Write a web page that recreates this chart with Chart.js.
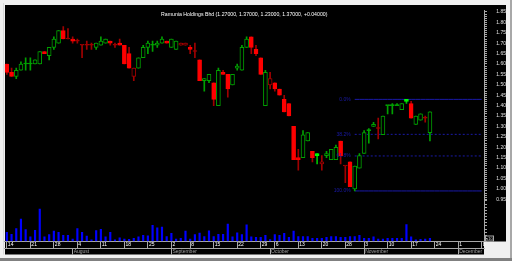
<!DOCTYPE html>
<html>
<head>
<meta charset="utf-8">
<script src="https://cdn.jsdelivr.net/npm/chart.js@4.4.1/dist/chart.umd.min.js"></script>
<style>
  html, body { margin: 0; padding: 0; background: #f0f0f0; overflow: hidden; }
  canvas { display: block; }
</style>
</head>
<body>
<canvas id="chart" width="512" height="261"></canvas>
<script>
const title = 'Ramunia Holdings Bhd (1.27000, 1.37000, 1.23000, 1.37000, +0.04000)';

// trading days, Jul 14 - Dec 8 2008 (Bursa holidays left out)
const dates = [
  '2008-07-14','2008-07-15','2008-07-16','2008-07-17','2008-07-18','2008-07-21','2008-07-22','2008-07-23','2008-07-24','2008-07-25',
  '2008-07-28','2008-07-29','2008-07-30','2008-07-31','2008-08-01','2008-08-04','2008-08-05','2008-08-06','2008-08-07','2008-08-08',
  '2008-08-11','2008-08-12','2008-08-13','2008-08-14','2008-08-15','2008-08-18','2008-08-19','2008-08-20','2008-08-21','2008-08-22',
  '2008-08-25','2008-08-26','2008-08-27','2008-08-28','2008-08-29','2008-09-02','2008-09-03','2008-09-04','2008-09-05','2008-09-08',
  '2008-09-09','2008-09-10','2008-09-11','2008-09-12','2008-09-15','2008-09-16','2008-09-17','2008-09-18','2008-09-19','2008-09-22',
  '2008-09-23','2008-09-24','2008-09-25','2008-09-26','2008-09-29','2008-09-30','2008-10-03','2008-10-06','2008-10-07','2008-10-08',
  '2008-10-09','2008-10-10','2008-10-13','2008-10-14','2008-10-15','2008-10-16','2008-10-17','2008-10-20','2008-10-21','2008-10-22',
  '2008-10-23','2008-10-24','2008-10-28','2008-10-29','2008-10-30','2008-10-31','2008-11-03','2008-11-04','2008-11-05','2008-11-06',
  '2008-11-07','2008-11-10','2008-11-11','2008-11-12','2008-11-13','2008-11-14','2008-11-17','2008-11-18','2008-11-19','2008-11-20',
  '2008-11-21','2008-11-24','2008-11-25','2008-11-26','2008-11-27','2008-11-28','2008-12-01','2008-12-02','2008-12-03','2008-12-04',
  '2008-12-05','2008-12-08'
];
const monthNames = ['January','February','March','April','May','June','July','August','September','October','November','December'];

const open = [
  1.60,1.56,1.54,1.57,1.60,1.60,1.60,1.60,1.66,1.64, 1.68,1.70,1.76,1.72,1.72,1.71,1.69,1.69,1.69,1.68,
  1.69,1.70,1.71,1.69,1.70,1.69,1.65,1.54,1.58,1.63, 1.68,1.69,1.69,1.70,1.71,1.68,1.67,1.69,1.69,1.68,
  1.66,1.62,1.52,1.52,1.51,1.40,1.56,1.55,1.50,1.58, 1.57,1.68,1.73,1.67,1.63,1.40,1.50,1.51,1.48,1.43,
  1.41,1.30,1.15,1.15,1.23,1.18,1.17,1.12,1.16,1.14, 1.14,1.23,1.11,1.13,1.00,1.10,1.17,1.28,1.30,1.29,
  1.26,1.40,1.40,1.40,1.38,1.43,1.41,1.31,1.33,1.34, 1.27
];
const high = [
  1.60,1.58,1.58,1.61,1.63,1.63,1.62,1.66,1.66,1.68, 1.73,1.76,1.78,1.77,1.73,1.72,1.69,1.71,1.70,1.70,
  1.73,1.72,1.71,1.70,1.72,1.69,1.68,1.58,1.63,1.69, 1.71,1.71,1.71,1.73,1.71,1.72,1.71,1.70,1.70,1.69,
  1.70,1.62,1.53,1.55,1.51,1.58,1.57,1.55,1.55,1.60, 1.69,1.73,1.73,1.69,1.63,1.57,1.56,1.51,1.48,1.45,
  1.41,1.30,1.19,1.28,1.27,1.18,1.17,1.16,1.18,1.19, 1.21,1.23,1.11,1.13,1.11,1.17,1.28,1.29,1.32,1.34,
  1.35,1.40,1.41,1.41,1.41,1.43,1.42,1.35,1.36,1.35, 1.37
];
const low = [
  1.55,1.54,1.53,1.57,1.57,1.57,1.60,1.60,1.65,1.62, 1.67,1.70,1.72,1.72,1.70,1.70,1.63,1.67,1.67,1.67,
  1.69,1.70,1.69,1.68,1.69,1.60,1.58,1.52,1.58,1.63, 1.65,1.66,1.68,1.70,1.70,1.68,1.67,1.69,1.69,1.65,
  1.63,1.52,1.47,1.51,1.40,1.40,1.55,1.44,1.50,1.57, 1.57,1.68,1.65,1.64,1.55,1.40,1.48,1.47,1.45,1.37,
  1.35,1.14,1.09,1.15,1.23,1.13,1.12,1.09,1.15,1.14, 1.14,1.12,1.03,1.01,0.99,1.10,1.17,1.22,1.30,1.24,
  1.26,1.36,1.36,1.40,1.38,1.41,1.34,1.31,1.33,1.32, 1.23
];
const close = [
  1.56,1.54,1.57,1.60,1.60,1.60,1.62,1.66,1.65,1.68, 1.72,1.76,1.72,1.72,1.71,1.71,1.69,1.69,1.69,1.70,
  1.71,1.72,1.70,1.69,1.69,1.60,1.58,1.58,1.63,1.68, 1.70,1.69,1.70,1.72,1.70,1.72,1.71,1.70,1.70,1.67,
  1.66,1.52,1.53,1.55,1.43,1.57,1.55,1.48,1.55,1.59, 1.68,1.72,1.68,1.65,1.55,1.56,1.53,1.48,1.45,1.37,
  1.35,1.14,1.14,1.26,1.27,1.15,1.16,1.13,1.17,1.19, 1.20,1.16,1.11,1.01,1.11,1.16,1.27,1.28,1.31,1.29,
  1.35,1.40,1.40,1.40,1.41,1.42,1.34,1.35,1.36,1.34, 1.37
];
// candle look as drawn in the picture: g hollow up, G filled up, r filled down, d hollow down, c/x crosses
const tone = [
  'r','r','g','g','c','c','g','g','r','g', 'g','g','r','x','r','x','x','x','x','g',
  'g','g','r','x','r','r','r','d','g','g', 'g','c','g','g','r','g','g','d','d','r',
  'x','r','g','g','r','g','r','r','g','g', 'g','g','r','r','r','g','d','r','r','r',
  'r','r','r','g','g','r','G','d','g','g', 'g','r','x','r','g','g','g','c','g','x',
  'g','c','c','c','g','G','r','g','g','x', 'g'
];
const volume = [
  2900,2300,4100,7200,3800,1500,3600,10400,1500,2200, 3300,2900,2000,2000,800,4100,2900,1700,500,3500,
  3900,1500,2900,500,1200,800,700,1000,1500,2000, 1800,5200,4400,4600,1600,2600,800,1000,3300,800,
  2200,2700,1600,3400,1600,2300,2300,5600,1500,2800, 2200,5300,1500,1300,1300,2000,600,2200,2000,2600,
  1300,3300,1600,1600,1600,1000,1000,1000,1300,1600, 1600,1300,1300,1600,1600,2000,1000,1000,1500,800,
  800,1000,1000,1000,1000,5400,1500,500,700,800, 1000
];
const volumeUnit = 'x10';

// Fibonacci retracement drawn from the Oct 30 low to the Nov 14 high
const fibHigh = 1.43;
const fibLow = 0.99;
const fibRatios = [0, 0.382, 0.618, 1];
const fibFrom = 74;

const looks = {
  g: { fill: '#000000', edge: '#00a000', wick: '#00a000' },
  G: { fill: '#00ff00', edge: '#00ff00', wick: '#00c000' },
  r: { fill: '#ff0000', edge: '#ff0000', wick: '#a00000' },
  d: { fill: '#000000', edge: '#a00000', wick: '#a00000' },
  c: { fill: '#00a000', edge: '#00a000', wick: '#00a000' },
  x: { fill: '#a00000', edge: '#a00000', wick: '#a00000' }
};

const day = s => new Date(s + 'T00:00:00Z');
function weekStart(i) {
  if (i === 0) return true;
  const a = day(dates[i - 1]), b = day(dates[i]);
  return (b - a) / 86400000 > 1 && b.getUTCDay() <= a.getUTCDay() || b.getUTCDay() < a.getUTCDay();
}
function monthStart(i) {
  if (i === 0) return false;
  return dates[i].slice(5, 7) !== dates[i - 1].slice(5, 7);
}

const bodies = open.map((o, i) => [o, close[i]]);
const wicks = low.map((l, i) => [l, high[i]]);
const fibSets = fibRatios.map((r, k) => {
  const level = fibHigh - r * (fibHigh - fibLow);
  return {
    type: 'line',
    data: dates.map((d, i) => (i >= fibFrom ? level : null)),
    yAxisID: 'y',
    borderColor: '#1a1aa8',
    borderWidth: 1,
    borderDash: (k === 1 || k === 2) ? [2, 2] : [],
    pointRadius: 0,
    spanGaps: false
  };
});

const backdrop = {
  id: 'backdrop',
  beforeDraw(chart) {
    const c = chart.ctx;
    const right = chart.scales.y.right;
    const axisBottom = chart.scales.xm.bottom;
    const { bottom } = chart.chartArea;
    c.save();
    c.fillStyle = '#f0f0f0';
    c.fillRect(0, 0, chart.width, chart.height);
    c.fillStyle = '#d8d8d8';
    c.fillRect(3, 3, 1, axisBottom - 3);
    c.fillStyle = '#a8a8a8';
    c.fillRect(chart.width - 2, 0, 2, chart.height - 3);
    c.fillStyle = '#000000';
    c.fillRect(5, 5, right - 5, bottom - 5);
    c.fillRect(5, bottom, chart.scales.x.right - 5, axisBottom - bottom);
    c.fillStyle = '#808080';
    c.fillRect(0, chart.height - 3, chart.width, 3);
    c.restore();
  }
};

const overlays = {
  id: 'overlays',
  afterDatasetsDraw(chart) {
    const { x, y, yv } = chart.scales;
    const c = chart.ctx;
    c.save();
    c.font = '5px "Liberation Sans", Arial, sans-serif';
    c.fillStyle = '#1a1aa8';
    c.textAlign = 'right';
    c.textBaseline = 'middle';
    fibRatios.forEach(r => {
      const level = fibHigh - r * (fibHigh - fibLow);
      c.fillText((r * 100).toFixed(1) + '%', x.getPixelForValue(fibFrom) - 4, y.getPixelForValue(level));
    });
    // volume unit box at the foot of the volume axis
    c.strokeStyle = '#a8a8a8';
    c.lineWidth = 1;
    c.strokeRect(yv.left + 1.5, yv.bottom - 5.5, 8, 5);
    c.font = '4px "Liberation Sans", Arial, sans-serif';
    c.fillStyle = '#d0d0d0';
    c.textAlign = 'center';
    c.fillText(volumeUnit, yv.left + 5.5, yv.bottom - 3);
    c.restore();
  }
};

Chart.defaults.font.family = '"Liberation Sans", Arial, sans-serif';
Chart.defaults.font.size = 5;

new Chart(document.getElementById('chart'), {
  data: {
    labels: dates,
    datasets: [
      {
        type: 'bar',
        data: bodies,
        yAxisID: 'y',
        backgroundColor: tone.map(t => looks[t].fill),
        borderColor: tone.map(t => looks[t].edge),
        borderWidth: 1,
        borderSkipped: false,
        barThickness: 4,
        minBarLength: 1,
        grouped: false
      },
      {
        type: 'bar',
        data: wicks,
        yAxisID: 'y',
        backgroundColor: tone.map(t => looks[t].wick),
        borderWidth: 0,
        barThickness: 1,
        grouped: false
      },
      {
        type: 'bar',
        data: volume,
        yAxisID: 'yv',
        backgroundColor: '#0000ff',
        borderWidth: 0,
        barThickness: 1.5,
        grouped: false
      },
      ...fibSets
    ]
  },
  options: {
    responsive: false,
    animation: false,
    layout: { padding: { left: 4.5, top: 5, right: 6, bottom: 6.5 } },
    plugins: {
      legend: { display: false },
      tooltip: { enabled: false },
      title: {
        display: true,
        text: title,
        color: '#ffffff',
        fullSize: false,
        font: { size: 5.2, weight: 'normal' },
        padding: { top: 0.8, bottom: -7.0 }
      }
    },
    scales: {
      x: {
        type: 'category',
        position: 'bottom',
        offset: true,
        grid: {
          offset: false,
          drawOnChartArea: false,
          tickLength: 7,
          tickColor: ctx => (weekStart(ctx.index) ? '#a8a8a8' : 'rgba(0,0,0,0)')
        },
        border: { color: '#a8a8a8' },
        ticks: {
          autoSkip: false,
          maxRotation: 0,
          minRotation: 0,
          align: 'start',
          labelOffset: 1,
          padding: -6.5,
          color: '#ffffff',
          callback: (v, i) => (weekStart(i) ? String(Number(dates[i].slice(8))) : '')
        },
        afterFit: s => { s.height = 7; }
      },
      xm: {
        type: 'category',
        position: 'bottom',
        offset: true,
        grid: {
          offset: false,
          drawOnChartArea: false,
          tickLength: 6,
          tickColor: ctx => (monthStart(ctx.index) ? '#a8a8a8' : 'rgba(0,0,0,0)')
        },
        border: { color: '#a8a8a8' },
        ticks: {
          autoSkip: false,
          maxRotation: 0,
          minRotation: 0,
          align: 'start',
          labelOffset: 1,
          padding: -5.5,
          color: '#a0a0a0',
          callback: (v, i) => (monthStart(i) ? monthNames[Number(dates[i].slice(5, 7)) - 1] : '')
        },
        afterFit: s => { s.height = 6; }
      },
      y: {
        position: 'right',
        stack: 'right',
        stackWeight: 195,
        min: 0.942,
        max: 1.858,
        border: { color: '#a8a8a8' },
        grid: { drawOnChartArea: false, tickLength: 3, tickColor: '#a8a8a8' },
        ticks: {
          stepSize: 0.01,
          autoSkip: false,
          includeBounds: false,
          crossAlign: 'far',
          padding: 7.3,
          color: '#e0e0e0',
          callback: v => (Math.round(v * 100) % 5 === 0 ? v.toFixed(2) : '')
        },
        afterFit: s => { s.width = 22; }
      },
      yv: {
        position: 'right',
        stack: 'right',
        stackWeight: 41.5,
        min: 0,
        max: 12970,
        border: { color: '#a8a8a8' },
        grid: { drawOnChartArea: false, tickLength: 3, tickColor: '#a8a8a8' },
        ticks: {
          stepSize: 1000,
          autoSkip: false,
          includeBounds: false,
          crossAlign: 'far',
          padding: 3.1,
          color: '#e0e0e0',
          callback: v => (v > 0 && v % 5000 === 0 ? String(v) : '')
        },
        afterFit: s => { s.width = 22; }
      }
    }
  },
  plugins: [backdrop, overlays]
});
</script>
</body>
</html>
